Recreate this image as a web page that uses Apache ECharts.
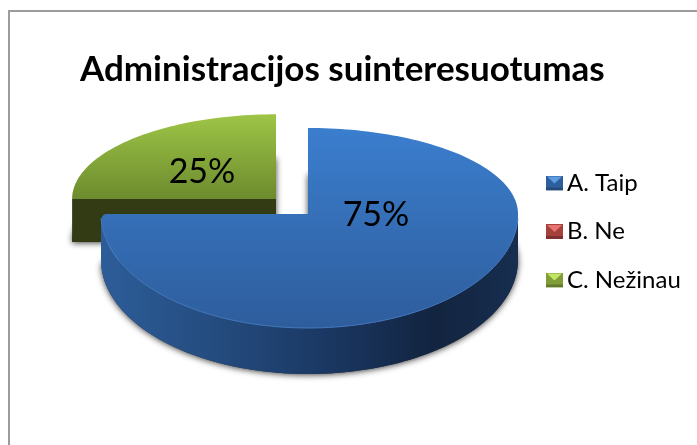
<!DOCTYPE html>
<html>
<head>
<meta charset="utf-8">
<style>html,body{margin:0;padding:0;background:#fff}#c{width:697px;height:445px}</style>
<script src="https://cdn.jsdelivr.net/npm/echarts@6/dist/echarts.min.js"></script>
</head>
<body>
<div id="c"></div>
<script>
const titleText = 'Administracijos suinteresuotumas';
const categories = ['A. Taip', 'B. Ne', 'C. Nežinau'];
const values = [75, 0, 25];

const FONT = 'Lato, Carlito, "Open Sans", sans-serif';
const lin = (x, y, x2, y2, stops) => ({type:'linear', x, y, x2, y2,
  colorStops: stops.map(s => ({offset:s[0], color:s[1]}))});

// Drawing style and placement of each slice (not data)
const looks = [
  {cx:308, cy:214, k:1, depth:46, round:6, label:[376,215],
   top: lin(0,0,0,1,[[0,'#3B7ECE'],[1,'#2E5D9C']]),
   side: lin(0,0,1,0,[[0,'#2D5D99'],[0.3,'#234A7C'],[0.55,'#1A3762'],[0.8,'#12243F'],[1,'#172E50']]),
   rim:'#4479C0', cut:'#1A3762', swatch:['#2F5E9C','#5C9BE0','#244A7C']},
  {cx:308, cy:214, k:1, depth:46, round:0, label:[0,0],
   top:'#C0504D', side:'#7A2E2C', rim:null, cut:'#7A2E2C', swatch:['#A5403D','#E87470','#80302E']},
  {cx:276, cy:199, k:0.985, depth:43, round:0, label:[202,172],
   top: lin(0,0,0,1,[[0,'#9EC546'],[1,'#6C8B2E']]),
   side:'#333B14', rim:null, cut:'#333B14', swatch:['#7F9E38','#C4E468','#617A2B']}
];
const RX_L = 207, RX_R = 210, RY_U = 86, RY_D = 114;
const total = values.reduce((a, b) => a + b, 0);
const startOf = i => values.slice(0, i).reduce((a, b) => a + b, 0) / total * 360;

function pt(l, deg, dz) {
  const a = deg * Math.PI / 180, s = Math.sin(a), c = Math.cos(a);
  const rx = (s > 0 ? RX_R : RX_L) * l.k, ry = (c > 0 ? RY_U : RY_D) * l.k;
  return [l.cx + rx * s, l.cy - ry * c + (dz || 0)];
}
function arc(l, a0, a1, dz) {
  const out = [], n = Math.max(2, Math.ceil(Math.abs(a1 - a0) / 1.5));
  for (let i = 0; i <= n; i++) out.push(pt(l, a0 + (a1 - a0) * i / n, dz));
  return out;
}
function topFace(l, a0, a1) {
  const apex = [l.cx, l.cy];
  if (!l.round) return [apex].concat(arc(l, a0, a1));
  const pts = [apex].concat(arc(l, a0, a1 - 4));
  const corner = pt(l, a1);
  const d = Math.hypot(apex[0] - corner[0], apex[1] - corner[1]);
  const prev = pts[pts.length - 1];
  const next = [corner[0] + (apex[0] - corner[0]) * l.round / d, corner[1] + (apex[1] - corner[1]) * l.round / d];
  for (let t = 0.1; t <= 1; t += 0.1) {
    const u = 1 - t;
    pts.push([u*u*prev[0] + 2*u*t*corner[0] + t*t*next[0], u*u*prev[1] + 2*u*t*corner[1] + t*t*next[1]]);
  }
  return pts;
}
function cutFace(l, deg) {
  const e = pt(l, deg);
  return [[l.cx, l.cy], e, [e[0], e[1] + l.depth], [l.cx, l.cy + l.depth]];
}
const renderSlice = idx => function (params, api) {
  const v = api.value(0);
  if (!v) return null;
  const l = looks[idx], a0 = startOf(idx), a1 = a0 + v / total * 360;
  const kids = [];
  const shadow = {shadowBlur:6, shadowColor:'rgba(0,0,0,0.75)', shadowOffsetY:1};
  kids.push({type:'polygon', shape:{points:topFace(l, a0, a1).map(p => [p[0], p[1] + l.depth])},
    style:Object.assign({fill:'#333'}, shadow)});
  const s0 = Math.max(a0, 90), s1 = Math.min(a1, 270);
  if (s1 > s0) {
    kids.push({type:'polygon',
      shape:{points:arc(l, s0, s1).concat(arc(l, s1, s0, l.depth))},
      style:{fill:l.side}});
  }
  if (a0 > 180 && a0 < 360) kids.push({type:'polygon', shape:{points:cutFace(l, a0)}, style:{fill:l.cut}});
  if (a1 > 0 && a1 < 180) kids.push({type:'polygon', shape:{points:cutFace(l, a1)}, style:{fill:l.cut}});
  kids.push({type:'polygon', shape:{points:topFace(l, a0, a1)}, style:{fill:l.top}});
  if (l.rim && s1 > s0) {
    kids.push({type:'polyline', shape:{points:arc(l, s0 + 2, s1 - 2)},
      style:{stroke:l.rim, lineWidth:1, fill:null}});
  }
  kids.push({type:'text', style:{text:v + '%', x:l.label[0], y:l.label[1], align:'center', verticalAlign:'middle',
    fontSize:34, fontFamily:FONT, fill:'#000'}});
  return {type:'group', children:kids};
};
const swatch = s => 'image://data:image/svg+xml;utf8,' + encodeURIComponent(
  `<svg xmlns="http://www.w3.org/2000/svg" width="17" height="15"><rect width="17" height="15" fill="${s[0]}"/>` +
  `<rect y="12" width="17" height="3" fill="${s[2]}"/><polygon points="1,1 16,1 8.5,8" fill="${s[1]}"/></svg>`);

const chart = echarts.init(document.getElementById('c'), null, {renderer:'canvas'});
chart.setOption({
  animation:false,
  backgroundColor:'#fff',
  title:{text:titleText, left:80, top:52, padding:0,
    textStyle:{fontFamily:FONT, fontWeight:'bold', fontSize:35, color:'#000'}},
  legend:{orient:'vertical', left:546, top:171, padding:0, itemWidth:17, itemHeight:15, itemGap:24.5,
    textStyle:{fontFamily:FONT, fontSize:24, color:'#000', padding:[0,0,0,-1]},
    data:categories.map((c, i) => ({name:c, icon:swatch(looks[i].swatch)}))},
  graphic:[{type:'rect', z:-1, shape:{x:9, y:11, width:900, height:700},
    style:{fill:'#fff', stroke:'#9C9C9C', lineWidth:2}}],
  series:categories.map((c, i) => ({
    type:'custom', name:c, coordinateSystem:'none', silent:true,
    z: i === 0 ? 4 : 3,
    itemStyle:{color:'#4F81BD'},
    data:[[values[i]]],
    renderItem:renderSlice(i)
  }))
});
</script>
</body>
</html>
